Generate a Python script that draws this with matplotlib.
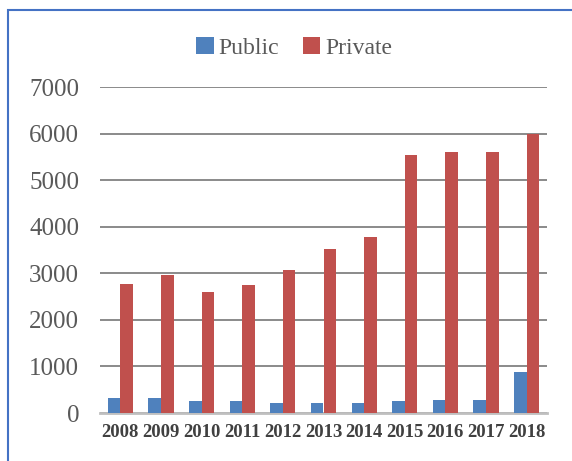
import numpy as np
import matplotlib.pyplot as plt
from matplotlib.patches import Rectangle

years = ["2008", "2009", "2010", "2011", "2012", "2013", "2014", "2015", "2016", "2017", "2018"]
public = [330, 330, 250, 250, 220, 220, 220, 250, 280, 280, 870]
private = [2780, 2960, 2600, 2750, 3080, 3520, 3770, 5550, 5600, 5600, 6000]

plt.rcParams['font.family'] = ['Liberation Serif', 'DejaVu Serif']

fig = plt.figure(figsize=(5.72, 4.61), dpi=100)
ax = fig.add_axes([100 / 572, 48 / 461, 447 / 572, 326 / 461])

x = np.arange(len(years))
w = 0.31
ax.bar(x - w / 2, public, w, color='#4F81BD', label='Public', zorder=3)
ax.bar(x + w / 2, private, w, color='#C0504D', label='Private', zorder=3)

ax.set_xlim(-0.5, len(years) - 0.5)
ax.set_ylim(0, 7000)
ax.set_yticks(range(0, 7001, 1000))
ax.set_xticks(x)
ax.set_xticklabels(years, fontsize=13.5, fontweight='bold', color='#404040')
ax.tick_params(axis='y', labelsize=18, colors='#595959', length=0, pad=15)
ax.tick_params(axis='x', length=0, pad=8)
ax.grid(axis='y', color='#8a8a8a', linewidth=1.4, zorder=0)
for s in ['top', 'right', 'left']:
    ax.spines[s].set_visible(False)
ax.spines['bottom'].set_color('#bfbfbf')
ax.spines['bottom'].set_linewidth(2)

fig.legend(loc='center', bbox_to_anchor=(294 / 572, 1 - 48 / 461), ncol=2, frameon=False,
           fontsize=17, handlelength=0.75, handleheight=0.75, handletextpad=0.2,
           columnspacing=1.0, labelcolor='#595959')

fig.patches.append(Rectangle((8 / 572, -0.1), 1.2, 1 - 10 / 461 + 0.1, transform=fig.transFigure,
                             fill=False, edgecolor='#4472C4', linewidth=1.5))

fig.savefig('out.png', dpi=100)
